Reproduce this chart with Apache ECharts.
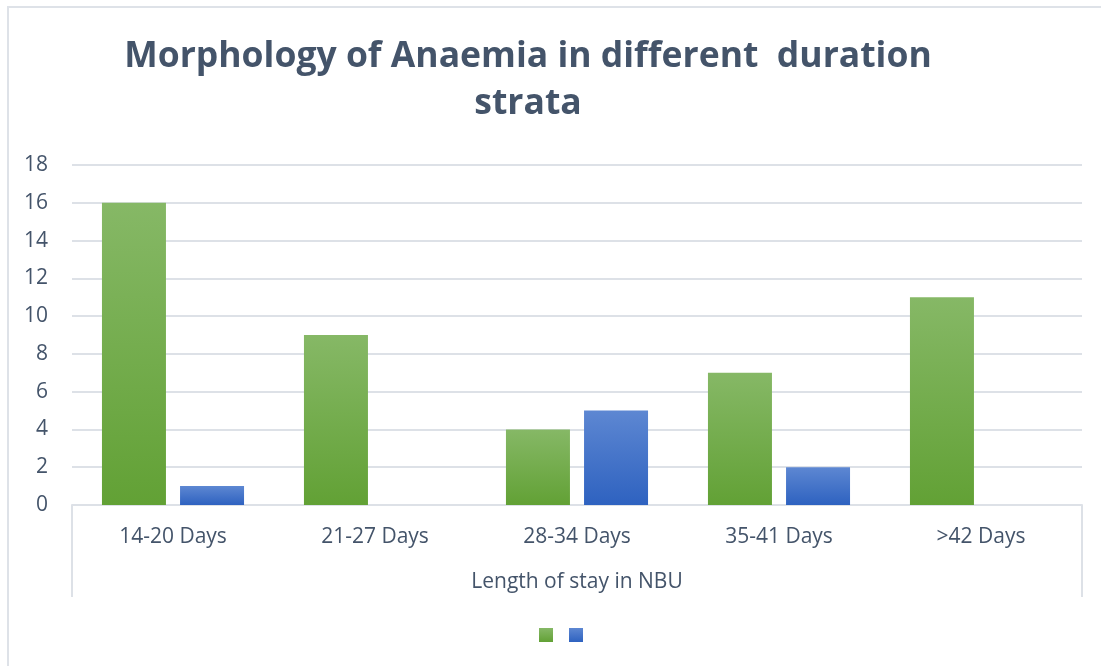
<!DOCTYPE html>
<html>
<head>
<meta charset="utf-8">
<script src="https://cdn.jsdelivr.net/npm/echarts@6/dist/echarts.min.js"></script>
<style>
  html, body { margin: 0; padding: 0; background: #fff; }
  #frame {
    position: absolute; left: 7px; top: 6px; width: 1200px; height: 800px;
    border-top: 2px solid #dee2e8; border-left: 2px solid #dee2e8;
  }
  #main { position: absolute; left: 0; top: 0; width: 1101px; height: 666px; }
</style>
</head>
<body>
<div id="frame"></div>
<div id="main"></div>
<script>
var categories = ['14-20 Days', '21-27 Days', '28-34 Days', '35-41 Days', '>42 Days'];
var greenValues = [16, 9, 4, 7, 11];
var blueValues = [1, 0, 5, 2, 0];
var yTicks = { min: 0, max: 18, interval: 2 };

var txt = '#44546a';
var lineCol = '#dde1e7';

function grad(top, bottom) {
    return new echarts.graphic.LinearGradient(0, 0, 0, 1, [
        { offset: 0, color: top },
        { offset: 1, color: bottom }
    ]);
}

var option = {
    animation: false,
    title: {
        text: 'Morphology of Anaemia in different  duration\nstrata',
        left: 523,
        top: 28,
        textAlign: 'center',
        textStyle: {
            fontFamily: '"Open Sans", sans-serif',
            fontSize: 35.5,
            fontWeight: 'bold',
            lineHeight: 47,
            color: txt
        }
    },
    legend: {
        top: 623,
        left: 534,
        icon: 'rect',
        itemWidth: 14,
        itemHeight: 14,
        itemGap: 16,
        formatter: function () { return ''; },
        data: ['Green', 'Blue']
    },
    grid: { left: 72, right: 19, top: 165, bottom: 161, containLabel: false },
    xAxis: {
        type: 'category',
        data: categories,
        name: 'Length of stay in NBU',
        nameLocation: 'middle',
        nameGap: 67,
        nameTextStyle: { fontFamily: 'Open Sans', fontSize: 21, color: txt },
        axisLine: { lineStyle: { color: lineCol, width: 2 } },
        axisTick: {
            show: true,
            length: 92,
            interval: function (i) { return i === 0; },
            lineStyle: { color: lineCol, width: 2 }
        },
        axisLabel: { margin: 22, fontFamily: 'Open Sans', fontSize: 21, color: txt }
    },
    yAxis: {
        type: 'value',
        min: yTicks.min,
        max: yTicks.max,
        interval: yTicks.interval,
        axisLine: { show: false },
        axisTick: { show: false },
        axisLabel: { margin: 24, fontFamily: 'Open Sans', fontSize: 21, color: txt },
        splitLine: { lineStyle: { color: lineCol, width: 2 } }
    },
    series: [
        {
            name: 'Green',
            type: 'bar',
            data: greenValues,
            barWidth: 64,
            barGap: '22%',
            itemStyle: { color: grad('#86b866', '#62a135') }
        },
        {
            name: 'Blue',
            type: 'bar',
            data: blueValues,
            barWidth: 64,
            itemStyle: { color: grad('#5d87d2', '#2e62c0') }
        }
    ]
};

var chart = echarts.init(document.getElementById('main'));
chart.setOption(option);
</script>
</body>
</html>
